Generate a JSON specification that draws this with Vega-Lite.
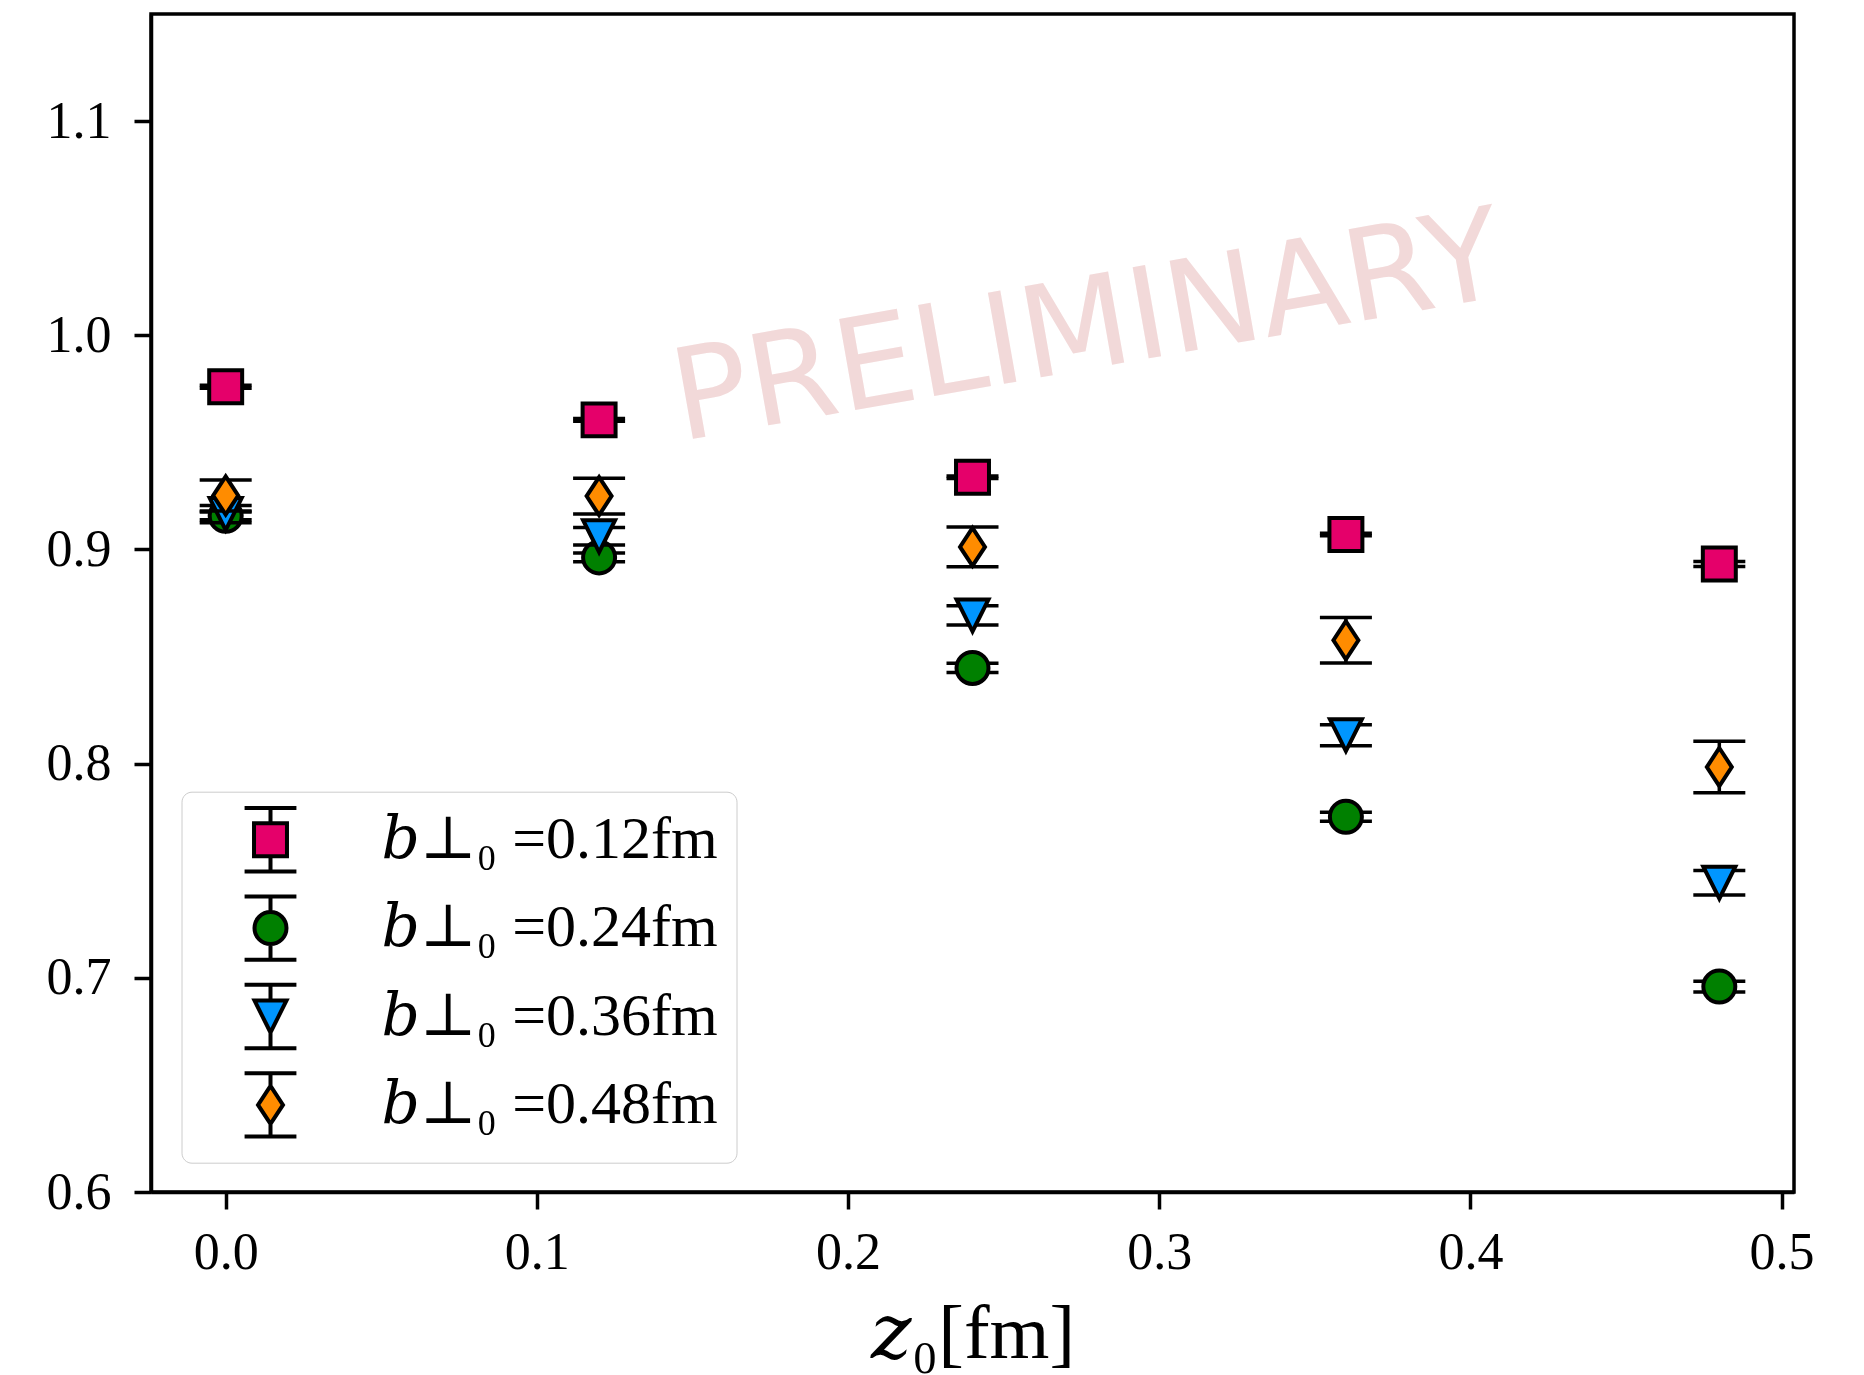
{
  "$schema": "https://vega.github.io/schema/vega-lite/v6.json",
  "width": 1643,
  "height": 1178,
  "autosize": {"type": "none"},
  "padding": {"left": 151, "top": 14, "right": 70, "bottom": 183},
  "background": "white",
  "config": {
    "view": {"stroke": "black", "strokeWidth": 3.5},
    "axis": {
      "grid": false,
      "tickCount": 6,
      "domainColor": "black",
      "domainWidth": 3.5,
      "tickColor": "black",
      "tickWidth": 3.5,
      "tickSize": 17,
      "labelFont": "Liberation Serif",
      "labelFontSize": 52,
      "labelColor": "black",
      "titleFont": "Liberation Serif, DejaVu Serif",
      "titleFontWeight": "normal",
      "titleColor": "black"
    },
    "axisX": {"labelPadding": 18, "titlePadding": 18, "titleFontSize": 77},
    "axisY": {"labelPadding": 23},
    "legend": {
      "title": null,
      "orient": "none",
      "legendX": 30.5,
      "legendY": 777.7,
      "padding": 18,
      "fillColor": "white",
      "strokeColor": "#cccccc",
      "cornerRadius": 10,
      "symbolSize": 1024,
      "symbolFillColor": "white",
      "symbolStrokeColor": "black",
      "symbolStrokeWidth": 4,
      "symbolOffset": 41,
      "labelOffset": 81,
      "rowPadding": 8.4,
      "labelFont": "Liberation Serif, DejaVu Serif",
      "labelFontSize": 60,
      "labelColor": "black",
      "labelLimit": 0,
      "labelBaseline": "middle"
    }
  },
  "datasets": {
    "obs": [
      {"z": 0.0, "b": "0.12fm", "v": 0.976, "err": 0.0007},
      {"z": 0.12, "b": "0.12fm", "v": 0.9605, "err": 0.0007},
      {"z": 0.24, "b": "0.12fm", "v": 0.9337, "err": 0.0006},
      {"z": 0.36, "b": "0.12fm", "v": 0.907, "err": 0.0006},
      {"z": 0.48, "b": "0.12fm", "v": 0.8932, "err": 0.0012},
      {"z": 0.0, "b": "0.24fm", "v": 0.9157, "err": 0.0018},
      {"z": 0.12, "b": "0.24fm", "v": 0.8963, "err": 0.002},
      {"z": 0.24, "b": "0.24fm", "v": 0.8447, "err": 0.0022},
      {"z": 0.36, "b": "0.24fm", "v": 0.7752, "err": 0.0021},
      {"z": 0.48, "b": "0.24fm", "v": 0.6959, "err": 0.0025},
      {"z": 0.0, "b": "0.36fm", "v": 0.9165, "err": 0.004},
      {"z": 0.12, "b": "0.36fm", "v": 0.9062, "err": 0.0041},
      {"z": 0.24, "b": "0.36fm", "v": 0.8692, "err": 0.0045},
      {"z": 0.36, "b": "0.36fm", "v": 0.8133, "err": 0.0049},
      {"z": 0.48, "b": "0.36fm", "v": 0.7444, "err": 0.0057},
      {"z": 0.0, "b": "0.48fm", "v": 0.9252, "err": 0.0072},
      {"z": 0.12, "b": "0.48fm", "v": 0.9249, "err": 0.0083},
      {"z": 0.24, "b": "0.48fm", "v": 0.9012, "err": 0.0093},
      {"z": 0.36, "b": "0.48fm", "v": 0.8576, "err": 0.0106},
      {"z": 0.48, "b": "0.48fm", "v": 0.7984, "err": 0.012}
    ]
  },
  "data": {"name": "obs"},
  "layer": [
    {
      "data": {"values": [{"note": "PRELIMINARY"}]},
      "mark": {
        "type": "text",
        "font": "DejaVu Sans",
        "fontSize": 127,
        "angle": 350,
        "align": "center",
        "baseline": "middle",
        "fill": "#F2D9D9",
        "opacity": 1
      },
      "encoding": {
        "x": {"datum": 0.277, "type": "quantitative", "scale": {"domain": [-0.024, 0.504], "nice": false, "zero": false}, "axis": {"title": "𝑧₀[fm]"}},
        "y": {"datum": 1.0022, "type": "quantitative", "scale": {"domain": [0.6, 1.15], "nice": false, "zero": false}, "axis": {"title": null}},
        "text": {"field": "note", "type": "nominal"}
      }
    },
    {
      "transform": [{"filter": "datum.b == '0.12fm'"}],
      "mark": {"type": "errorbar", "thickness": 3.5, "color": "black", "opacity": 1, "ticks": {"size": 52, "thickness": 3.5, "color": "black", "opacity": 1}},
      "encoding": {
        "x": {"field": "z", "type": "quantitative", "scale": {"domain": [-0.024, 0.504], "nice": false, "zero": false}, "axis": {"title": "𝑧₀[fm]"}},
        "y": {"field": "v", "type": "quantitative", "scale": {"domain": [0.6, 1.15], "nice": false, "zero": false}, "axis": {"title": null}},
        "yError": {"field": "err"}
      }
    },
    {
      "transform": [{"filter": "datum.b == '0.12fm'"}],
      "mark": {"type": "point", "shape": "M-1.03,-1.03H1.03V1.03H-1.03Z", "filled": true, "fill": "#E5006A", "size": 1024, "stroke": "black", "strokeWidth": 4, "opacity": 1},
      "encoding": {
        "x": {"field": "z", "type": "quantitative", "scale": {"domain": [-0.024, 0.504], "nice": false, "zero": false}, "axis": {"title": "𝑧₀[fm]"}},
        "y": {"field": "v", "type": "quantitative", "scale": {"domain": [0.6, 1.15], "nice": false, "zero": false}, "axis": {"title": null}}
      }
    },
    {
      "transform": [{"filter": "datum.b == '0.24fm'"}],
      "mark": {"type": "errorbar", "thickness": 3.5, "color": "black", "opacity": 1, "ticks": {"size": 52, "thickness": 3.5, "color": "black", "opacity": 1}},
      "encoding": {
        "x": {"field": "z", "type": "quantitative", "scale": {"domain": [-0.024, 0.504], "nice": false, "zero": false}, "axis": {"title": "𝑧₀[fm]"}},
        "y": {"field": "v", "type": "quantitative", "scale": {"domain": [0.6, 1.15], "nice": false, "zero": false}, "axis": {"title": null}},
        "yError": {"field": "err"}
      }
    },
    {
      "transform": [{"filter": "datum.b == '0.24fm'"}],
      "mark": {"type": "point", "shape": "M1,0A1,1,0,1,1,-1,0A1,1,0,1,1,1,0Z", "filled": true, "fill": "#008000", "size": 1024, "stroke": "black", "strokeWidth": 4, "opacity": 1},
      "encoding": {
        "x": {"field": "z", "type": "quantitative", "scale": {"domain": [-0.024, 0.504], "nice": false, "zero": false}, "axis": {"title": "𝑧₀[fm]"}},
        "y": {"field": "v", "type": "quantitative", "scale": {"domain": [0.6, 1.15], "nice": false, "zero": false}, "axis": {"title": null}}
      }
    },
    {
      "transform": [{"filter": "datum.b == '0.36fm'"}],
      "mark": {"type": "errorbar", "thickness": 3.5, "color": "black", "opacity": 1, "ticks": {"size": 52, "thickness": 3.5, "color": "black", "opacity": 1}},
      "encoding": {
        "x": {"field": "z", "type": "quantitative", "scale": {"domain": [-0.024, 0.504], "nice": false, "zero": false}, "axis": {"title": "𝑧₀[fm]"}},
        "y": {"field": "v", "type": "quantitative", "scale": {"domain": [0.6, 1.15], "nice": false, "zero": false}, "axis": {"title": null}},
        "yError": {"field": "err"}
      }
    },
    {
      "transform": [{"filter": "datum.b == '0.36fm'"}],
      "mark": {"type": "point", "shape": "M0,1L-1,-1L1,-1Z", "filled": true, "fill": "#0096FF", "size": 1024, "stroke": "black", "strokeWidth": 4, "opacity": 1},
      "encoding": {
        "x": {"field": "z", "type": "quantitative", "scale": {"domain": [-0.024, 0.504], "nice": false, "zero": false}, "axis": {"title": "𝑧₀[fm]"}},
        "y": {"field": "v", "type": "quantitative", "scale": {"domain": [0.6, 1.15], "nice": false, "zero": false}, "axis": {"title": null}}
      }
    },
    {
      "transform": [{"filter": "datum.b == '0.48fm'"}],
      "mark": {"type": "errorbar", "thickness": 3.5, "color": "black", "opacity": 1, "ticks": {"size": 52, "thickness": 3.5, "color": "black", "opacity": 1}},
      "encoding": {
        "x": {"field": "z", "type": "quantitative", "scale": {"domain": [-0.024, 0.504], "nice": false, "zero": false}, "axis": {"title": "𝑧₀[fm]"}},
        "y": {"field": "v", "type": "quantitative", "scale": {"domain": [0.6, 1.15], "nice": false, "zero": false}, "axis": {"title": null}},
        "yError": {"field": "err"}
      }
    },
    {
      "transform": [{"filter": "datum.b == '0.48fm'"}],
      "mark": {"type": "point", "shape": "M0,-1.19L0.78,0L0,1.19L-0.78,0Z", "filled": true, "fill": "#FF8C00", "size": 1024, "stroke": "black", "strokeWidth": 4, "opacity": 1},
      "encoding": {
        "x": {"field": "z", "type": "quantitative", "scale": {"domain": [-0.024, 0.504], "nice": false, "zero": false}, "axis": {"title": "𝑧₀[fm]"}},
        "y": {"field": "v", "type": "quantitative", "scale": {"domain": [0.6, 1.15], "nice": false, "zero": false}, "axis": {"title": null}}
      }
    },
    {
      "description": "Legend key: marker with its error bar, one entry per impact parameter",
      "transform": [{"filter": "datum.z < 0"}],
      "mark": {"type": "point", "filled": true, "size": 1024, "stroke": "black", "strokeWidth": 4, "opacity": 1},
      "encoding": {
        "x": {"field": "z", "type": "quantitative", "scale": {"domain": [-0.024, 0.504], "nice": false, "zero": false}, "axis": {"title": "𝑧₀[fm]"}},
        "y": {"field": "v", "type": "quantitative", "scale": {"domain": [0.6, 1.15], "nice": false, "zero": false}, "axis": {"title": null}},
        "fill": {
          "field": "b", "type": "nominal",
          "scale": {"domain": ["0.12fm", "0.24fm", "0.36fm", "0.48fm"], "range": ["#E5006A", "#008000", "#0096FF", "#FF8C00"]},
          "legend": {"labelExpr": "'𝑏⊥₀ =' + datum.label"}
        },
        "shape": {
          "field": "b", "type": "nominal",
          "scale": {
            "domain": ["0.12fm", "0.24fm", "0.36fm", "0.48fm"],
            "range": [
              "M-1.03,-1.03H1.03V1.03H-1.03Z M0,-1.03V-1.98 M-1.62,-1.98H1.62 M0,1.03V1.98 M-1.62,1.98H1.62",
              "M1,0A1,1,0,1,1,-1,0A1,1,0,1,1,1,0Z M0,-1V-1.98 M-1.62,-1.98H1.62 M0,1V1.98 M-1.62,1.98H1.62",
              "M0,1L-1,-1L1,-1Z M0,-1V-1.98 M-1.62,-1.98H1.62 M0,1V1.98 M-1.62,1.98H1.62",
              "M0,-1.19L0.78,0L0,1.19L-0.78,0Z M0,-1.19V-1.98 M-1.62,-1.98H1.62 M0,1.19V1.98 M-1.62,1.98H1.62"
            ]
          },
          "legend": {"labelExpr": "'𝑏⊥₀ =' + datum.label"}
        }
      }
    }
  ]
}
